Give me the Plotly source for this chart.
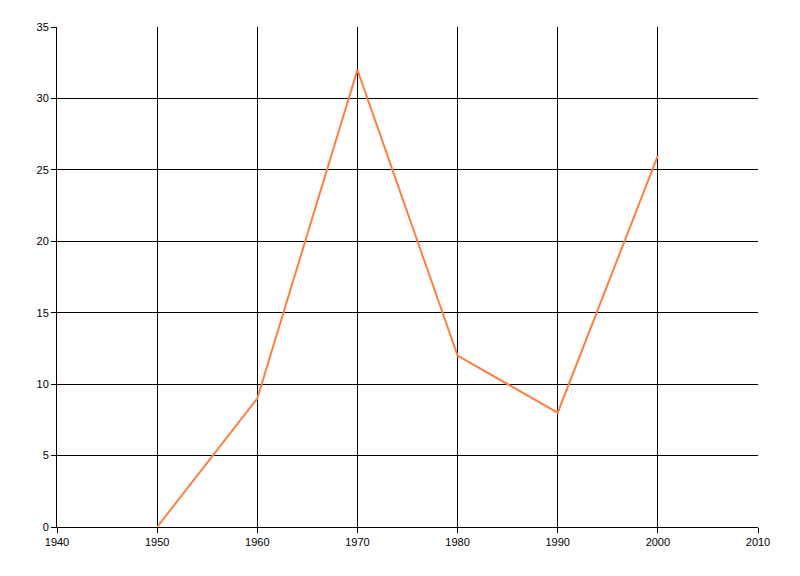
import plotly.graph_objects as go

years = [1950, 1960, 1970, 1980, 1990, 2000]
values = [0, 9, 32, 12, 8, 26]

fig = go.Figure()
fig.add_trace(go.Scatter(x=years, y=values, mode="lines",
                         line=dict(color="#FF7F3F", width=2)))

axis_common = dict(showgrid=True, gridcolor="black", gridwidth=1,
                   ticks="outside", ticklen=5, tickcolor="black",
                   showline=True, linecolor="black", linewidth=1,
                   zeroline=False, tickfont=dict(family="Liberation Sans", size=11, color="black"))

fig.update_layout(
    width=792, height=568,
    margin=dict(l=49, r=42, t=19, b=49),
    plot_bgcolor="white", paper_bgcolor="white",
    showlegend=False,
    xaxis=dict(range=[1940, 2010], dtick=10, tick0=1940, **axis_common),
    yaxis=dict(range=[0, 35], dtick=5, tick0=0, **axis_common),
)

fig.write_html("out.html")
